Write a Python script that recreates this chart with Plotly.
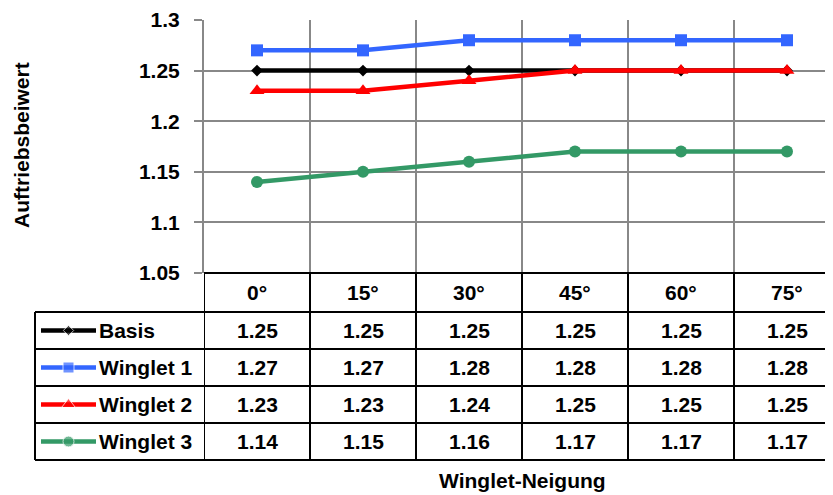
import plotly.graph_objects as go

# data
categories = ["0°", "15°", "30°", "45°", "60°", "75°"]
series_names = ["Basis", "Winglet 1", "Winglet 2", "Winglet 3"]
basis = [1.25, 1.25, 1.25, 1.25, 1.25, 1.25]
winglet1 = [1.27, 1.27, 1.28, 1.28, 1.28, 1.28]
winglet2 = [1.23, 1.23, 1.24, 1.25, 1.25, 1.25]
winglet3 = [1.14, 1.15, 1.16, 1.17, 1.17, 1.17]
y_ticks = [1.05, 1.1, 1.15, 1.2, 1.25, 1.3]
y_tick_labels = ["1.05", "1.1", "1.15", "1.2", "1.25", "1.3"]

colors = ["#000000", "#3366FF", "#FF0000", "#339966"]
symbols = ["diamond", "square", "triangle-up", "circle"]
msizes = [9, 12, 13, 12]
values = [basis, winglet1, winglet2, winglet3]

# the page body has an 8px margin, so work in page pixels and shift by it
OFF = 8
PAGE_W, PAGE_H = 833, 495
W, H = PAGE_W - OFF, PAGE_H - OFF
FONT = "Liberation Sans, Arial, sans-serif"
FS = 21


def px(v):
    return v - OFF


# page-pixel layout of the plot area and data table
left, top, bottom = 204, 20, 273
row_edges = [273, 312, 349, 386, 423, 460]
table_left = 35
col_w = 106

fig = go.Figure()

for name, vals, c, s, ms in zip(series_names, values, colors, symbols, msizes):
    fig.add_trace(go.Scatter(x=categories, y=vals, name=name, mode="lines+markers",
                             line=dict(color=c, width=4.5),
                             marker=dict(symbol=s, size=ms, color=c),
                             showlegend=False, xaxis="x", yaxis="y"))

shapes = []
annotations = []
line_k = dict(color="black", width=2)

# horizontal table lines
shapes.append(dict(type="line", xref="x2", yref="y2", x0=px(left), x1=W,
                   y0=px(row_edges[0]), y1=px(row_edges[0]), line=line_k))
for ye in row_edges[1:]:
    shapes.append(dict(type="line", xref="x2", yref="y2", x0=px(table_left), x1=W,
                       y0=px(ye), y1=px(ye), line=line_k))
# vertical table lines on category boundaries
for i in range(len(categories)):
    shapes.append(dict(type="line", xref="x", yref="y2", x0=i - 0.5, x1=i - 0.5,
                       y0=px(row_edges[0]), y1=px(row_edges[-1]), line=line_k))
shapes.append(dict(type="line", xref="x2", yref="y2", x0=px(table_left), x1=px(table_left),
                   y0=px(row_edges[1]), y1=px(row_edges[-1]), line=line_k))

tfont = dict(family=FONT, size=FS, color="black", weight="bold")
header_c = px((row_edges[0] + row_edges[1]) / 2)
for cat in categories:
    annotations.append(dict(x=cat, y=header_c, xref="x", yref="y2", text=cat, showarrow=False,
                            font=tfont, xanchor="center", yanchor="middle"))

for r, (name, vals, c, s, ms) in enumerate(zip(series_names, values, colors, symbols, msizes)):
    rc = px((row_edges[r + 1] + row_edges[r + 2]) / 2)
    for cat, v in zip(categories, vals):
        annotations.append(dict(x=cat, y=rc, xref="x", yref="y2", text=f"{v:.2f}", showarrow=False,
                                font=tfont, xanchor="center", yanchor="middle"))
    annotations.append(dict(x=px(97), y=rc, xref="x2", yref="y2", text=name, showarrow=False,
                            font=tfont, xanchor="left", yanchor="middle"))
    # legend key inside the table
    fig.add_trace(go.Scatter(x=[px(41), px(68.5), px(96)], y=[rc, rc, rc], mode="lines+markers",
                             line=dict(color=c, width=4.5),
                             marker=dict(symbol=s, size=[0, ms - 1, 0], color=c),
                             showlegend=False, xaxis="x2", yaxis="y2", hoverinfo="skip"))

annotations.append(dict(x=px(522), y=px(480), xref="x2", yref="y2", text="Winglet-Neigung",
                        showarrow=False, font=tfont, xanchor="center", yanchor="middle"))
annotations.append(dict(x=px(21), y=px(145), xref="x2", yref="y2", text="Auftriebsbeiwert",
                        textangle=-90, showarrow=False, font=tfont, xanchor="center", yanchor="middle"))

fig.update_layout(
    width=W, height=H, autosize=False,
    margin=dict(l=0, r=0, t=0, b=0, pad=0),
    paper_bgcolor="white", plot_bgcolor="rgba(0,0,0,0)",
    font=dict(family=FONT, size=FS, color="black"),
    xaxis=dict(domain=[px(left) / W, 1], type="category", categoryorder="array", categoryarray=categories,
               range=[-0.5, -0.5 + (PAGE_W - left) / col_w], tickson="boundaries", showgrid=True,
               gridcolor="#888888", gridwidth=2, showticklabels=False, ticks="",
               showline=False, zeroline=False, anchor="y", automargin=False),
    yaxis=dict(domain=[(PAGE_H - bottom) / H, (PAGE_H - top) / H], range=[1.05, 1.3],
               tickvals=y_ticks, ticktext=y_tick_labels, ticks="outside", ticklen=8, tickwidth=2,
               tickcolor="#888888", showline=True, linecolor="#888888", linewidth=2,
               showgrid=True, gridcolor="#888888", gridwidth=2, zeroline=False,
               tickfont=dict(family=FONT, size=FS, color="black", weight="bold"),
               ticklabelstandoff=10, anchor="x", automargin=False),
    xaxis2=dict(domain=[0, 1], range=[0, W], visible=False, anchor="y2", fixedrange=True, automargin=False),
    yaxis2=dict(domain=[0, 1], range=[H, 0], visible=False, anchor="x2", fixedrange=True, automargin=False),
    shapes=shapes, annotations=annotations,
)

fig.write_html("out.html", config={"displayModeBar": False})
